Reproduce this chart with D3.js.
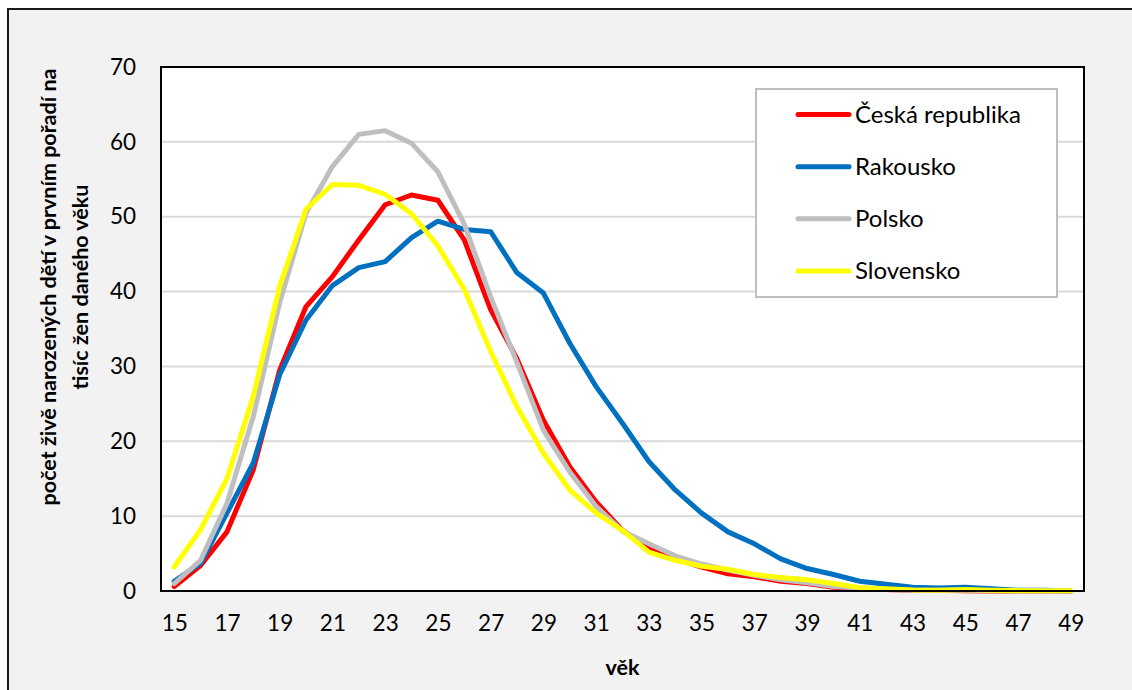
<!DOCTYPE html>
<html><head><meta charset="utf-8">
<script src="https://cdn.jsdelivr.net/npm/d3@7"></script>
<style>
html,body{margin:0;padding:0;background:#fff;}
svg{display:block;}
text{font-family:Lato,"Open Sans",sans-serif;fill:#000;}
</style></head>
<body>
<svg id="c" width="1132" height="690"></svg>
<script>
const ages = d3.range(15, 50);
const tickAges = [15,17,19,21,23,25,27,29,31,33,35,37,39,41,43,45,47,49];
const yTicks = [0,10,20,30,40,50,60,70];
const seriesNames = ["Česká republika","Rakousko","Polsko","Slovensko"];
const seriesColors = ["#ff0000","#0070c0","#bfbfbf","#ffff00"];
const cz = [0.6,3.4,7.9,16.2,29.5,38.0,42.0,46.9,51.6,52.9,52.2,46.9,37.6,31.0,22.8,16.6,11.9,8.1,5.7,4.3,3.2,2.3,1.9,1.3,1.0,0.5,0.3,0.2,0.1,0.1,0.05,0,0,0,0];
const at = [1.3,3.7,10.4,17.1,28.9,36.2,40.8,43.2,44.0,47.2,49.4,48.3,48.0,42.5,39.8,33.1,27.3,22.4,17.3,13.5,10.4,7.9,6.3,4.3,3.0,2.2,1.3,0.9,0.5,0.4,0.5,0.3,0.1,0.1,0.0];
const pl = [1.0,4.1,11.7,23.3,38.5,50.5,56.7,61.0,61.5,59.8,56.0,49.0,39.3,30.5,21.5,15.9,11.3,8.0,6.3,4.7,3.6,2.8,2.1,1.5,1.1,0.6,0.4,0.2,0.1,0.1,0.1,0.05,0,0,0];
const sk = [3.2,8.2,15.0,26.0,40.7,51.0,54.3,54.2,53.0,50.4,46.1,40.3,32.0,24.6,18.4,13.5,10.4,8.1,5.2,4.1,3.3,2.9,2.2,1.8,1.5,1.0,0.45,0.3,0.15,0.1,0.2,0.1,0.05,0.05,0.05];
const seriesValues = [cz, at, pl, sk];
const yTitle1 = "počet živě narozených dětí v prvním pořadí na";
const yTitle2 = "tisíc žen daného věku";
const xTitle = "věk";

const svg = d3.select("#c");
// outer frame
svg.append("rect").attr("x",8).attr("y",9).attr("width",1140).attr("height",700)
  .attr("fill","#f2f2f2").attr("stroke","#1a1a1a").attr("stroke-width",2);

const L=161, R=1084, T=67, B=591;
const x = d3.scalePoint().domain(ages).range([L,R]).padding(0.5);
const y = d3.scaleLinear().domain([0,70]).range([B,T]);

svg.append("rect").attr("x",L).attr("y",T).attr("width",R-L).attr("height",B-T).attr("fill","#fff");

// gridlines
svg.append("g").selectAll("line").data(yTicks.filter(d=>d>0 && d<70)).join("line")
  .attr("x1",L).attr("x2",R).attr("y1",d=>y(d)).attr("y2",d=>y(d))
  .attr("stroke","#d9d9d9").attr("stroke-width",2);

// y axis labels
const yAxis = d3.axisLeft(y).tickValues(yTicks).tickSize(0).tickPadding(25);
const gy = svg.append("g").attr("transform",`translate(${L},0)`).call(yAxis);
gy.select(".domain").remove();
gy.selectAll("text").attr("font-size",22.5).attr("font-family","Lato, sans-serif").attr("fill","#000");

const xAxis = d3.axisBottom(x).tickValues(tickAges).tickSize(0).tickPadding(24);
const gx = svg.append("g").attr("transform",`translate(0,${B})`).call(xAxis);
gx.select(".domain").remove();
gx.selectAll("text").attr("font-size",22.5).attr("font-family","Lato, sans-serif").attr("fill","#000");

// lines
const line = d3.line().x((d,i)=>x(ages[i])).y(d=>y(d)).curve(d3.curveLinear);
svg.append("g").selectAll("path").data(seriesValues).join("path")
  .attr("d",d=>line(d)).attr("fill","none")
  .attr("stroke",(d,i)=>seriesColors[i]).attr("stroke-width",5)
  .attr("stroke-linejoin","round").attr("stroke-linecap","round");

// plot border
svg.append("rect").attr("x",L).attr("y",T).attr("width",R-L).attr("height",B-T)
  .attr("fill","none").attr("stroke","#000").attr("stroke-width",2);

// legend
const lg = svg.append("g");
lg.append("rect").attr("x",756).attr("y",89).attr("width",301).attr("height",208)
  .attr("fill","#fff").attr("stroke","#bfbfbf").attr("stroke-width",2);
const ly = d3.scalePoint().domain(seriesNames).range([114.5,271]);
seriesNames.forEach((n,i)=>{
  lg.append("line").attr("x1",798).attr("x2",849).attr("y1",ly(n)).attr("y2",ly(n))
    .attr("stroke",seriesColors[i]).attr("stroke-width",5).attr("stroke-linecap","round");
  lg.append("text").attr("x",855).attr("y",ly(n)).attr("dy","0.35em")
    .attr("font-size",24).text(n);
});

// axis titles
svg.append("text").attr("x",(L+R)/2).attr("y",675).attr("text-anchor","middle")
  .attr("font-size",21.5).attr("font-weight","bold").text(xTitle);
const yt = svg.append("text").attr("transform","translate(0,287) rotate(-90)")
  .attr("text-anchor","middle").attr("font-size",21.5).attr("font-weight","bold");
yt.append("tspan").attr("x",0).attr("y",56).text(yTitle1);
yt.append("tspan").attr("x",0).attr("y",88).text(yTitle2);
</script>
</body></html>
